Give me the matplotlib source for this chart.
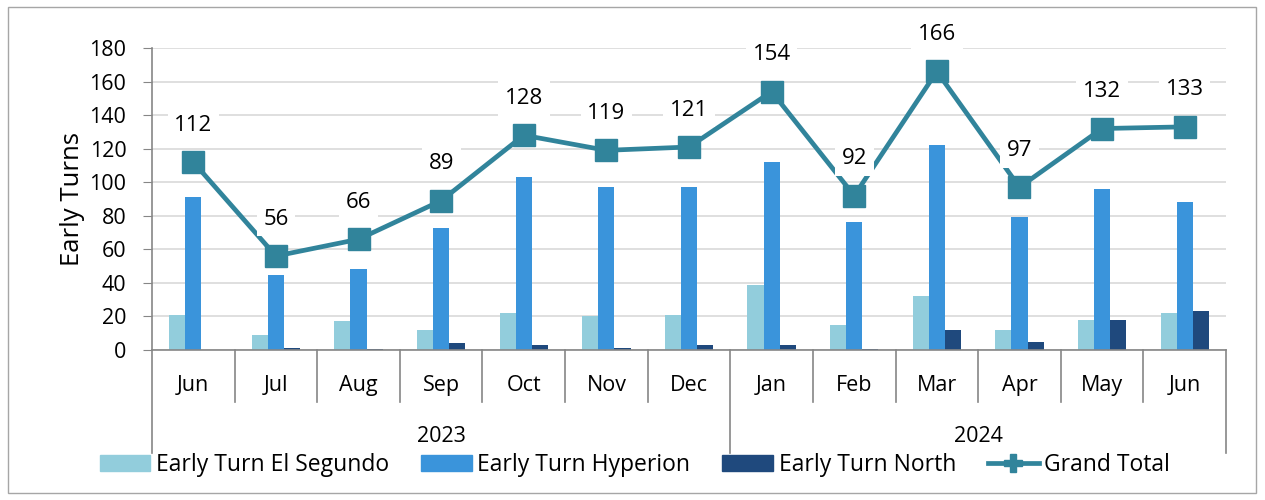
import matplotlib
matplotlib.use("Agg")
import matplotlib.pyplot as plt
from matplotlib.patches import Rectangle, Patch
from matplotlib.lines import Line2D
import numpy as np

plt.rcParams['font.family'] = ['Open Sans', 'DejaVu Sans']

months = ["Jun", "Jul", "Aug", "Sep", "Oct", "Nov", "Dec", "Jan", "Feb", "Mar", "Apr", "May", "Jun"]
years = ["2023", "2024"]
year_counts = [7, 6]
el_segundo = [21, 9, 17, 12, 22, 20, 21, 39, 15, 32, 12, 18, 22]
hyperion = [91, 45, 48, 73, 103, 97, 97, 112, 76, 122, 79, 96, 88]
north = [0, 1, 0.5, 4, 3, 1, 3, 3, 0.5, 12, 5, 18, 23]
grand_total = [112, 56, 66, 89, 128, 119, 121, 154, 92, 166, 97, 132, 133]

c_es = "#92CDDC"
c_hy = "#3A94DB"
c_no = "#1F497D"
c_gt = "#31849B"
FS = 15.5

fig = plt.figure(figsize=(12.65, 5), dpi=100)
fig.patches.append(Rectangle((8/1265, 7/500), 1248/1265, 486/500, transform=fig.transFigure,
                             fill=False, edgecolor="#A6A6A6", linewidth=1.0))
ax = fig.add_axes([152/1265, 150/500, 1074/1265, 302/500])

x = np.arange(len(months))
w = 0.195
ax.bar(x - w, el_segundo, w, color=c_es, zorder=2)
ax.bar(x, hyperion, w, color=c_hy, zorder=2)
ax.bar(x + w, north, w, color=c_no, zorder=2)
ax.plot(x, grand_total, color=c_gt, linewidth=3.4, marker="s", markersize=16.5, zorder=3)
for xi, v in zip(x, grand_total):
    ax.annotate(str(v), (xi, v), xytext=(0, 19), textcoords="offset points", ha="center", va="bottom",
                fontsize=FS + 0.5, zorder=4,
                bbox=dict(boxstyle="square,pad=0.3", facecolor="white", edgecolor="none"))

ax.set_xlim(-0.5, len(months) - 0.5)
ax.set_ylim(0, 180)
ax.set_yticks(np.arange(0, 181, 20))
ax.tick_params(axis="y", labelsize=FS, length=6.5, color="#868686", pad=12)
ax.yaxis.grid(True, color="#D9D9D9", linewidth=1.2, zorder=0)
ax.set_axisbelow(True)
for s in ["top", "right"]:
    ax.spines[s].set_visible(False)
ax.spines["left"].set_color("#868686")
ax.spines["bottom"].set_color("#868686")
ax.spines["left"].set_linewidth(1.2)
ax.spines["bottom"].set_linewidth(1.2)
ax.set_xticks([])
ax.set_ylabel("Early Turns", fontsize=18.5, labelpad=3)

tr = ax.get_xaxis_transform()
for i, m in enumerate(months):
    ax.text(i, -0.117, m, transform=tr, ha="center", va="center", fontsize=FS)
bounds = np.arange(len(months) + 1) - 0.5
year_bounds = [-0.5]
for c in year_counts:
    year_bounds.append(year_bounds[-1] + c)
for b in bounds:
    y_end = -0.342 if b in year_bounds else -0.172
    ax.plot([b, b], [0, y_end], transform=tr, color="#868686", linewidth=1.2, clip_on=False)
for i, yl in enumerate(years):
    ax.text((year_bounds[i] + year_bounds[i + 1]) / 2, -0.288, yl, transform=tr,
            ha="center", va="center", fontsize=FS)

handles = [Patch(color=c_es), Patch(color=c_hy), Patch(color=c_no),
           Line2D([0], [0], color=c_gt, linewidth=3.4, marker="P", markersize=13)]
labels = ["Early Turn El Segundo", "Early Turn Hyperion", "Early Turn North", "Grand Total"]
fig.legend(handles, labels, loc="center", bbox_to_anchor=(635/1265, 1 - 465/500), ncol=4,
           frameon=False, fontsize=16.5, handlelength=2.2, handleheight=0.7, columnspacing=1.4,
           handletextpad=0.25, borderpad=0.2)

fig.savefig("out.png", dpi=100)
